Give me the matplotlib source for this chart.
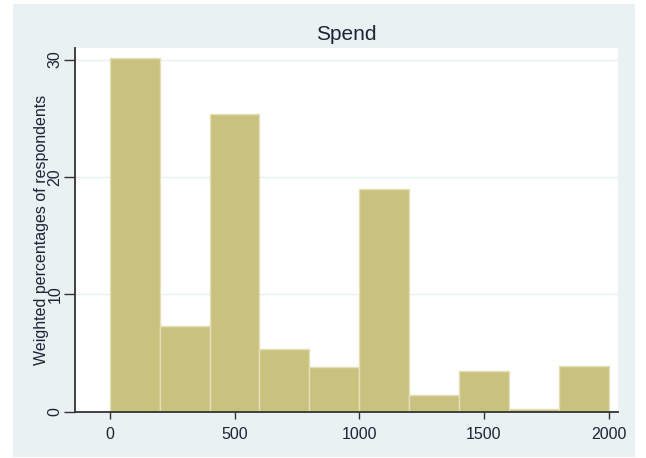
import matplotlib
matplotlib.use("Agg")
import matplotlib.pyplot as plt
from matplotlib.patches import Rectangle

# histogram data: bin edges and weighted percentages per bin
bin_edges = [0, 200, 400, 600, 800, 1000, 1200, 1400, 1600, 1800, 2000]
percentages = [30.1, 7.3, 25.35, 5.35, 3.8, 18.93, 1.45, 3.45, 0.25, 3.9]
x_ticks = [0, 500, 1000, 1500, 2000]
y_ticks = [0, 10, 20, 30]

plt.rcParams['font.family'] = ['Liberation Sans', 'DejaVu Sans']

panel_col = '#E9F1F3'
bar_col = '#C9C27F'
edge_col = '#E4DFB8'
text_col = '#1c2436'

fig = plt.figure(figsize=(6.46, 4.58), dpi=100)
fig.patch.set_facecolor('white')

# light graph region behind the plot (Stata style)
W, H = 646, 458
fig.add_artist(Rectangle((13 / W, 1 / H), (635 - 13) / W, (454 - 1) / H,
                         transform=fig.transFigure, facecolor=panel_col,
                         edgecolor='none', zorder=-5))

ax = fig.add_axes([75 / W, (H - 411.6) / H, (618 - 75) / W, (411.6 - 48.3) / H])
ax.set_zorder(2)
ax.set_facecolor('white')

widths = [bin_edges[i + 1] - bin_edges[i] for i in range(len(percentages))]
ax.bar(bin_edges[:-1], percentages, width=widths, align='edge',
       color=bar_col, edgecolor=edge_col, linewidth=1.0, zorder=2)

ax.set_xlim(-140, 2038)
ax.set_ylim(0, 30.96)

for y in y_ticks[1:]:
    ax.axhline(y, color=panel_col, lw=1.0, zorder=1)

ax.set_xticks(x_ticks)
ax.set_yticks(y_ticks)
ax.set_yticklabels([str(v) for v in y_ticks], rotation=90, va='center')
ax.tick_params(axis='x', length=5, width=1, color='#333333',
               labelsize=11.5, labelcolor=text_col, pad=6)
ax.tick_params(axis='y', length=8, width=1, color='#333333',
               labelsize=11.5, labelcolor=text_col, pad=1)

for s in ['top', 'right']:
    ax.spines[s].set_visible(False)
for s in ['left', 'bottom']:
    ax.spines[s].set_color('#333333')
    ax.spines[s].set_linewidth(1.3)

ax.set_ylabel('Weighted percentages of respondents', fontsize=11.5,
              color=text_col, labelpad=-1)
ax.set_title('Spend', fontsize=15, color=text_col, pad=6)

fig.savefig('out.png', dpi=100, facecolor='white')
